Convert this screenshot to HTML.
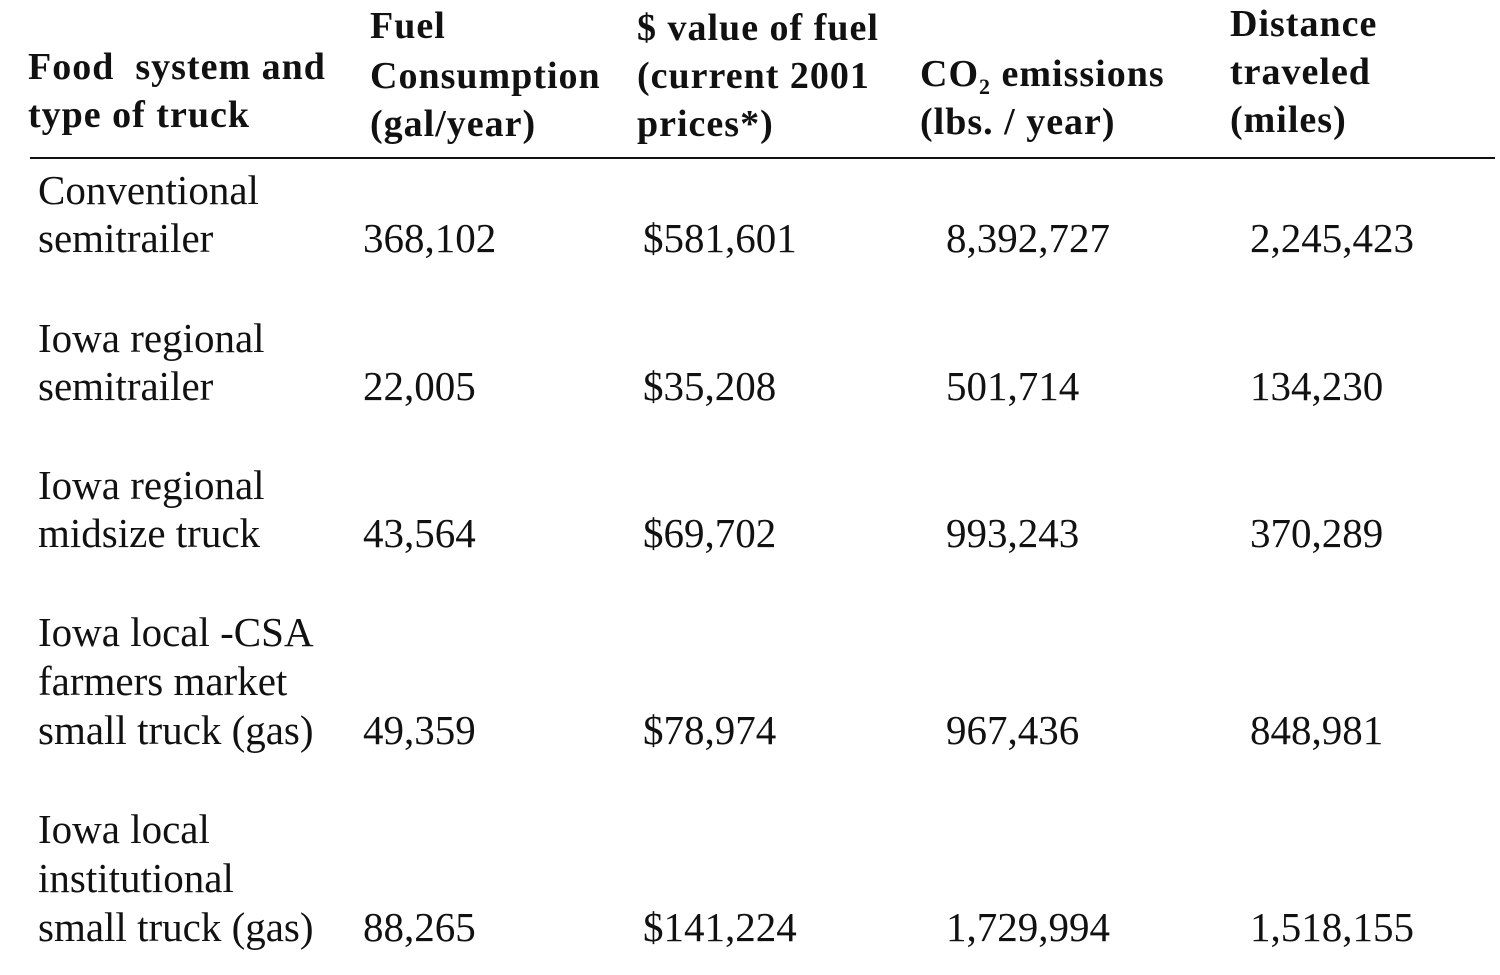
<!DOCTYPE html>
<html><head><meta charset="utf-8"><style>
html,body{margin:0;padding:0;background:#fff;}
body{width:1500px;height:975px;position:relative;overflow:hidden;font-family:"Liberation Serif",serif;color:#111;}
.t{position:absolute;white-space:nowrap;font-size:41px;line-height:41px;}
.h{font-weight:bold;font-size:38px;letter-spacing:1px;}
.rule{position:absolute;left:30px;top:157px;width:1465px;height:2px;background:#111;}
sub{font-size:22px;line-height:0;vertical-align:-8px;}
</style></head><body>
<div class="t h" style="left:28px;top:47px">Food&nbsp; system and</div>
<div class="t h" style="left:28px;top:95px">type of truck</div>
<div class="t h" style="left:370px;top:6px">Fuel</div>
<div class="t h" style="left:370px;top:56px">Consumption</div>
<div class="t h" style="left:370px;top:104px">(gal/year)</div>
<div class="t h" style="left:637px;top:8px">$ value of fuel</div>
<div class="t h" style="left:637px;top:56px">(current 2001</div>
<div class="t h" style="left:637px;top:104px">prices*)</div>
<div class="t h" style="left:920px;top:54px">CO<sub>2</sub> emissions</div>
<div class="t h" style="left:920px;top:102px">(lbs. / year)</div>
<div class="t h" style="left:1230px;top:4px">Distance</div>
<div class="t h" style="left:1230px;top:52px">traveled</div>
<div class="t h" style="left:1230px;top:100px">(miles)</div>
<div class="rule"></div>

<div class="t" style="left:38px;top:170px">Conventional</div>
<div class="t" style="left:38px;top:218px">semitrailer</div>
<div class="t" style="left:363px;top:218px">368,102</div>
<div class="t" style="left:643px;top:218px">$581,601</div>
<div class="t" style="left:946px;top:218px">8,392,727</div>
<div class="t" style="left:1250px;top:218px">2,245,423</div>

<div class="t" style="left:38px;top:318px">Iowa regional</div>
<div class="t" style="left:38px;top:366px">semitrailer</div>
<div class="t" style="left:363px;top:366px">22,005</div>
<div class="t" style="left:643px;top:366px">$35,208</div>
<div class="t" style="left:946px;top:366px">501,714</div>
<div class="t" style="left:1250px;top:366px">134,230</div>

<div class="t" style="left:38px;top:465px">Iowa regional</div>
<div class="t" style="left:38px;top:513px">midsize truck</div>
<div class="t" style="left:363px;top:513px">43,564</div>
<div class="t" style="left:643px;top:513px">$69,702</div>
<div class="t" style="left:946px;top:513px">993,243</div>
<div class="t" style="left:1250px;top:513px">370,289</div>

<div class="t" style="left:38px;top:612px">Iowa local -CSA</div>
<div class="t" style="left:38px;top:661px">farmers market</div>
<div class="t" style="left:38px;top:710px">small truck (gas)</div>
<div class="t" style="left:363px;top:710px">49,359</div>
<div class="t" style="left:643px;top:710px">$78,974</div>
<div class="t" style="left:946px;top:710px">967,436</div>
<div class="t" style="left:1250px;top:710px">848,981</div>

<div class="t" style="left:38px;top:809px">Iowa local</div>
<div class="t" style="left:38px;top:858px">institutional</div>
<div class="t" style="left:38px;top:907px">small truck (gas)</div>
<div class="t" style="left:363px;top:907px">88,265</div>
<div class="t" style="left:643px;top:907px">$141,224</div>
<div class="t" style="left:946px;top:907px">1,729,994</div>
<div class="t" style="left:1250px;top:907px">1,518,155</div>
</body></html>
